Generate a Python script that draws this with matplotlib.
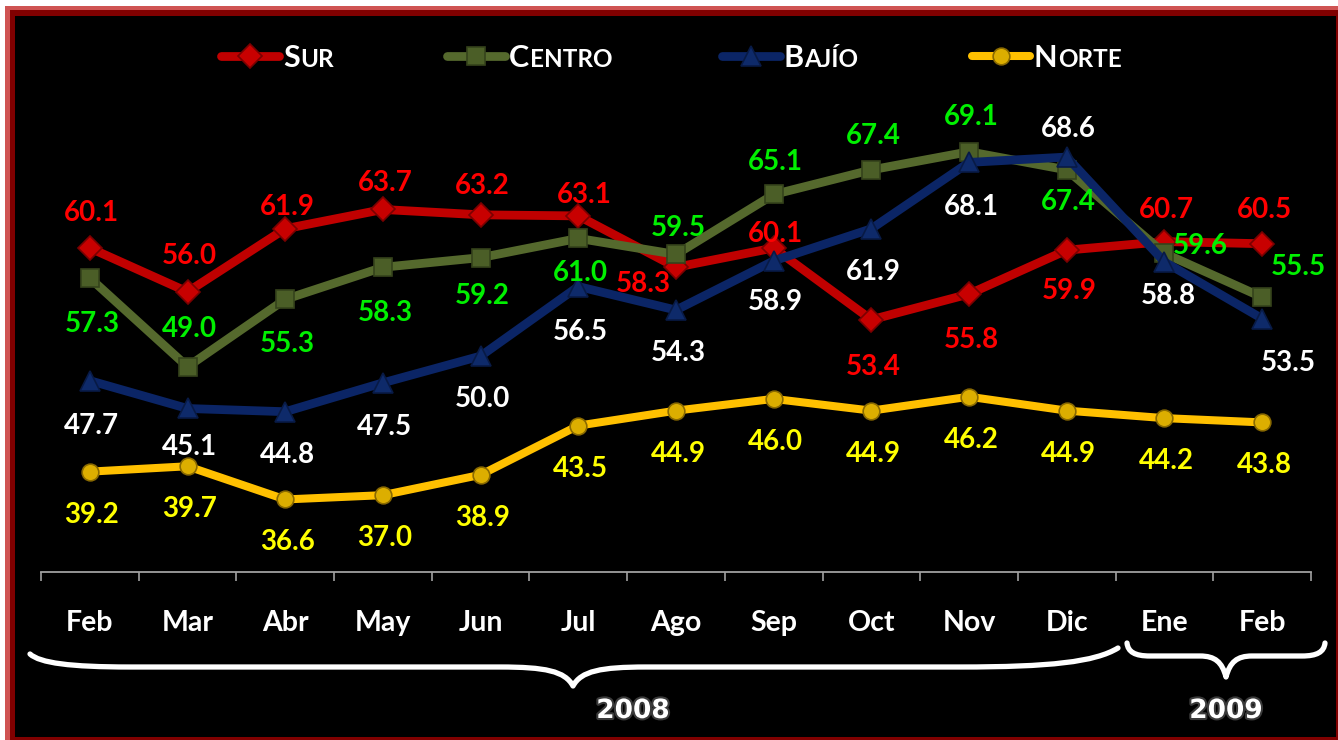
import matplotlib
matplotlib.use("Agg")
import matplotlib.pyplot as plt
from matplotlib.patches import Rectangle, PathPatch
from matplotlib.path import Path
from matplotlib.lines import Line2D
import matplotlib.patheffects as pe

# ---------------- data ----------------
months = ["Feb", "Mar", "Abr", "May", "Jun", "Jul", "Ago", "Sep", "Oct", "Nov", "Dic", "Ene", "Feb"]
years = ["2008", "2009"]
sur = [60.1, 56.0, 61.9, 63.7, 63.2, 63.1, 58.3, 60.1, 53.4, 55.8, 59.9, 60.7, 60.5]
centro = [57.3, 49.0, 55.3, 58.3, 59.2, 61.0, 59.5, 65.1, 67.4, 69.1, 67.4, 59.6, 55.5]
bajio = [47.7, 45.1, 44.8, 47.5, 50.0, 56.5, 54.3, 58.9, 61.9, 68.1, 68.6, 58.8, 53.5]
norte = [39.2, 39.7, 36.6, 37.0, 38.9, 43.5, 44.9, 46.0, 44.9, 46.2, 44.9, 44.2, 43.8]
series_names = [("S", "UR"), ("C", "ENTRO"), ("B", "AJÍO"), ("N", "ORTE")]

# label offsets (pixels, x right, y down) relative to each point -- styling only
off_sur = [(2, -37), (2, -38), (2, -24), (2, -28), (2, -31), (6, -23), (-33, 15),
           (2, -16), (2, 45), (2, 44), (2, 39), (2, -34), (2, -36)]
off_centro = [(2, 44), (2, -40), (2, 43), (2, 44), (2, 36), (2, 33), (2, -28),
              (2, -34), (2, -36), (2, -37), (2, 30), (36, -9), (36, -32)]
off_bajio = [(2, 43), (2, 37), (2, 41), (2, 42), (2, 41), (2, 43), (2, 41),
             (2, 39), (2, 41), (2, 43), (2, -30), (4, 32), (26, 42)]
off_norte = [(2, 41)] * 13

W, H = 1338, 740
fig = plt.figure(figsize=(W / 100, H / 100), dpi=100, facecolor="white")

def fx(x):
    return x / W

def fy(y):
    return 1 - y / H

def rect_px(x0, y0, x1, y1, color, z):
    fig.patches.append(Rectangle((fx(x0), fy(y1)), (x1 - x0) / W, (y1 - y0) / H,
                                 transform=fig.transFigure, facecolor=color,
                                 edgecolor="none", zorder=z))

# frame
rect_px(5, 6, 1338, 740, "#cf5453", -3)
rect_px(10, 10, 1338, 740, "#800000", -2)
rect_px(15, 16, 1336, 737, "black", -1)

# axes: x from 41 to 1311 px; y from 20 to 572 px
ax = fig.add_axes([fx(41), fy(572), (1311 - 41) / W, (572 - 20) / H])
ax.set_facecolor("black")
ax.patch.set_alpha(0)
ppu = 10.7
y0v = 60.1 - (572 - 248) / ppu
y1v = 60.1 + (248 - 20) / ppu
ax.set_ylim(y0v, y1v)
ax.set_xlim(-0.5, len(months) - 0.5)

xs = list(range(len(months)))

styles = [
    dict(data=sur, color="#c00000", marker="D", ms=12, mfc="#c80000", mec="#7a0000", lw=6.3,
         tcolor="#ff0000", offs=off_sur),
    dict(data=centro, color="#55692d", marker="s", ms=13, mfc="#4b5e27", mec="#35431b", lw=6.3,
         tcolor="#00f000", offs=off_centro),
    dict(data=bajio, color="#0b2566", marker="^", ms=14, mfc="#0e2a6a", mec="#081a45", lw=6.3,
         tcolor="white", offs=off_bajio),
    dict(data=norte, color="#ffc000", marker="o", ms=12, mfc="#dcae00", mec="#8a6a00", lw=5.8,
         tcolor="#ffff00", offs=off_norte),
]

label_font = dict(family="Lato", weight="bold", size=20)
for k, st in enumerate(styles):
    ax.plot(xs, st["data"], color=st["color"], lw=st["lw"], marker=st["marker"], ms=st["ms"],
            mfc=st["mfc"], mec=st["mec"], mew=1.2, zorder=3 + k, solid_joinstyle="round",
            solid_capstyle="round")

for k, st in enumerate(styles):
    for i, v in enumerate(st["data"]):
        dx, dy = st["offs"][i]
        ax.annotate(f"{v:.1f}", (i, v), xytext=(dx, -(dy + 10)), textcoords="offset pixels",
                    ha="center", va="baseline", color=st["tcolor"], zorder=10,
                    annotation_clip=False, **label_font)

# axis styling
for s in ["top", "left", "right"]:
    ax.spines[s].set_visible(False)
ax.spines["bottom"].set_color("#a0a0a0")
ax.spines["bottom"].set_linewidth(1.3)
ax.set_yticks([])
ax.set_xticks(xs)
ax.set_xticklabels(months)
ax.set_xticks([i - 0.5 for i in range(len(months) + 1)], minor=True)
ax.tick_params(axis="x", which="major", length=0, pad=42.5, colors="white",
               labelsize=20.5)
ax.tick_params(axis="x", which="minor", length=6.5, width=1.2, color="#a0a0a0",
               direction="out")
for lbl in ax.get_xticklabels():
    lbl.set_fontfamily("Lato")
    lbl.set_fontweight("bold")
    lbl.set_va("baseline")

# braces
def brace(verts_codes):
    verts = [(fx(x), fy(y)) for x, y in verts_codes[0]]
    p = Path(verts, verts_codes[1])
    fig.patches.append(PathPatch(p, transform=fig.transFigure, facecolor="none",
                                 edgecolor="white", lw=3.8, capstyle="round",
                                 joinstyle="round", zorder=5))

M, C, L = Path.MOVETO, Path.CURVE4, Path.LINETO
big = ([(30, 654), (40, 663), (70, 667), (130, 667), (500, 667),
        (545, 667), (565, 671), (573, 686), (581, 671), (601, 667), (646, 667),
        (960, 667), (1050, 667), (1095, 662), (1118, 648)],
       [M, C, C, C, L, C, C, C, C, C, C, L, C, C, C])
small = ([(1127, 643), (1128, 652), (1135, 656), (1150, 656), (1200, 656),
          (1215, 656), (1222, 662), (1226, 677), (1230, 662), (1237, 656), (1252, 656),
          (1302, 656), (1317, 656), (1324, 652), (1325, 643)],
         [M, C, C, C, L, C, C, C, C, C, C, L, C, C, C])
brace(big)
brace(small)

year_fx = [pe.withStroke(linewidth=3, foreground="#3a3a3a")]
fig.text(fx(633), fy(711), years[0], ha="center", va="center", color="white",
         family="DejaVu Sans", weight="bold", size=19, path_effects=year_fx)
fig.text(fx(1226), fy(711), years[1], ha="center", va="center", color="white",
         family="DejaVu Sans", weight="bold", size=19, path_effects=year_fx)

# legend (manual, small caps)
leg_x = [250, 476, 751, 1001]
leg_y = 56
renderer = fig.canvas.get_renderer()
for k, st in enumerate(styles):
    cx = leg_x[k]
    fig.add_artist(Line2D([fx(cx - 29), fx(cx + 29)], [fy(leg_y), fy(leg_y)],
                          transform=fig.transFigure, color=st["color"], lw=st["lw"],
                          solid_capstyle="round", zorder=6))
    fig.add_artist(Line2D([fx(cx)], [fy(leg_y)], transform=fig.transFigure,
                          marker=st["marker"], ms=st["ms"], mfc=st["mfc"], mec=st["mec"],
                          mew=1.2, lw=0, zorder=7))
    big_l, rest = series_names[k]
    tx = cx + 33
    t1 = fig.text(fx(tx), fy(leg_y + 11), big_l, ha="left", va="baseline", color="white",
                  family="Lato", weight="bold", size=22, zorder=8)
    w1 = t1.get_window_extent(renderer).width
    fig.text(fx(tx + w1 + 0.5), fy(leg_y + 11), rest, ha="left", va="baseline",
             color="white", family="Lato", weight="bold", size=17.5, zorder=8)

fig.savefig("out.png", dpi=100, facecolor="white")
